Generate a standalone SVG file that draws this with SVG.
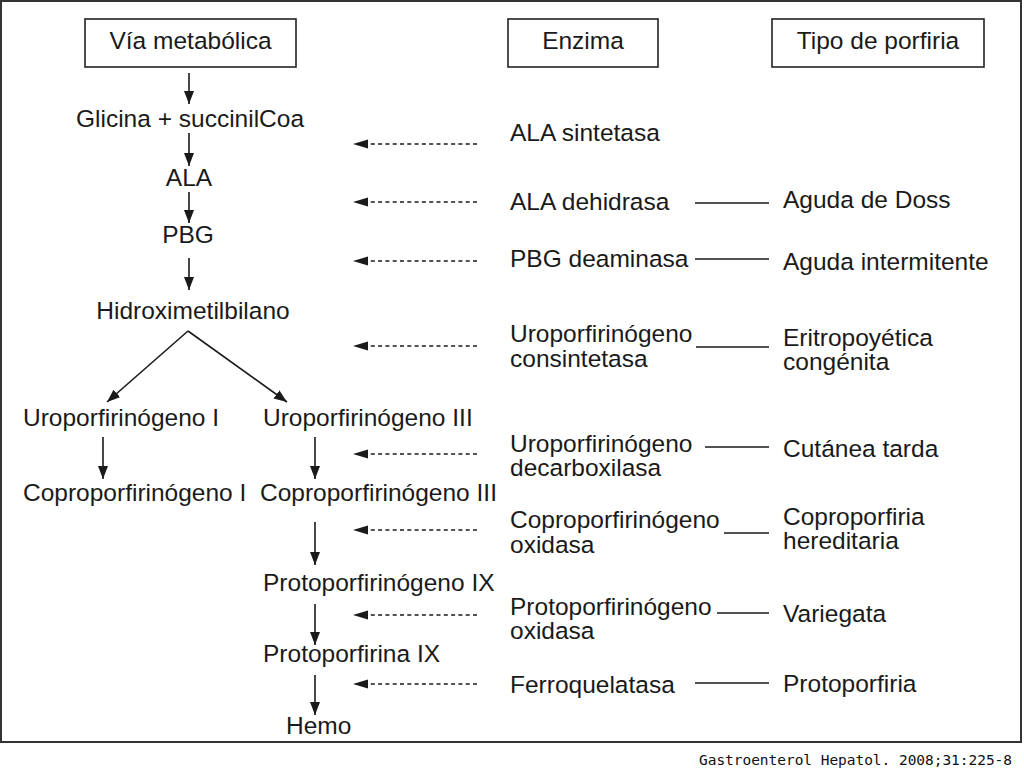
<svg xmlns="http://www.w3.org/2000/svg" width="1024" height="784" viewBox="0 0 1024 784">
<style>
text{font-family:"Liberation Sans",Arial,Helvetica,sans-serif;font-size:24.5px;fill:#1a1a1a}
.c{text-anchor:middle}
.box{fill:#fff;stroke:#222;stroke-width:1.6}
.ar{stroke:#1a1a1a;stroke-width:1.6;fill:none;marker-end:url(#ah)}
.da{stroke:#1a1a1a;stroke-width:1.6;fill:none;stroke-dasharray:4 3.3;marker-end:url(#dh)}
.ln{stroke:#1a1a1a;stroke-width:1.6;fill:none}
.ft{font-family:"DejaVu Sans Mono",monospace;font-size:14.5px;fill:#111}
</style>
<defs>
<marker id="ah" markerUnits="userSpaceOnUse" markerWidth="14" markerHeight="12" refX="13" refY="5.5" orient="auto" viewBox="0 0 14 12">
<path d="M0,0.5 L13,5.5 L0,10.5 z" fill="#1a1a1a"/>
</marker>
<marker id="dh" markerUnits="userSpaceOnUse" markerWidth="16" markerHeight="10" refX="15" refY="4.5" orient="auto" viewBox="0 0 16 10">
<path d="M0,0 L15,4.5 L0,9 z" fill="#1a1a1a"/>
</marker>
</defs>
<rect x="0" y="0" width="1024" height="784" fill="#fff"/>
<rect x="1" y="1" width="1020" height="741" fill="#fff" stroke="#333" stroke-width="2"/>

<g id="hdr-via"><rect class="box" x="85" y="19" width="211" height="48"/><text class="c" x="190.5" y="49">Vía metabólica</text></g>
<g id="hdr-enzima"><rect class="box" x="508" y="19" width="150" height="48"/><text class="c" x="583" y="49">Enzima</text></g>
<g id="hdr-tipo"><rect class="box" x="772" y="19" width="212" height="48"/><text class="c" x="878" y="49">Tipo de porfiria</text></g>

<g id="n-glicina"><text class="c" x="190" y="127">Glicina + succinilCoa</text></g>
<g id="n-ala"><text class="c" x="189" y="186">ALA</text></g>
<g id="n-pbg"><text class="c" x="188" y="243">PBG</text></g>
<g id="n-hidroxi"><text class="c" x="193" y="319">Hidroximetilbilano</text></g>
<g id="n-uro1"><text x="23" y="426">Uroporfirinógeno I</text></g>
<g id="n-uro3"><text x="263" y="426">Uroporfirinógeno III</text></g>
<g id="n-copro1"><text x="23" y="501">Coproporfirinógeno I</text></g>
<g id="n-copro3"><text x="260" y="501">Coproporfirinógeno III</text></g>
<g id="n-protogen"><text x="263" y="591">Protoporfirinógeno IX</text></g>
<g id="n-protoIX"><text x="263" y="662">Protoporfirina IX</text></g>
<g id="n-hemo"><text x="286" y="734">Hemo</text></g>

<g id="e-alas"><text x="510" y="141">ALA sintetasa</text></g>
<g id="e-alad"><text x="510" y="210">ALA dehidrasa</text></g>
<g id="e-pbgd"><text x="510" y="267">PBG deaminasa</text></g>
<g id="e-urocos"><text x="510" y="342">Uroporfirinógeno<tspan x="510" y="367">consintetasa</tspan></text></g>
<g id="e-urodec"><text x="510" y="452">Uroporfirinógeno<tspan x="510" y="476">decarboxilasa</tspan></text></g>
<g id="e-coprox"><text x="510" y="528">Coproporfirinógeno<tspan x="510" y="553">oxidasa</tspan></text></g>
<g id="e-protox"><text x="510" y="615">Protoporfirinógeno<tspan x="510" y="639">oxidasa</tspan></text></g>
<g id="e-ferro"><text x="510" y="693">Ferroquelatasa</text></g>

<g id="p-doss"><text x="783" y="208">Aguda de Doss</text></g>
<g id="p-aguda"><text x="783" y="270">Aguda intermitente</text></g>
<g id="p-eritro"><text x="783" y="346">Eritropoyética<tspan x="783" y="370">congénita</tspan></text></g>
<g id="p-cutanea"><text x="783" y="457">Cutánea tarda</text></g>
<g id="p-copro"><text x="783" y="525">Coproporfiria<tspan x="783" y="549">hereditaria</tspan></text></g>
<g id="p-varieg"><text x="783" y="622">Variegata</text></g>
<g id="p-proto"><text x="783" y="692">Protoporfiria</text></g>

<g id="connectors">
<line class="ar" x1="189" y1="73" x2="189" y2="104"/>
<line class="ar" x1="189" y1="133" x2="189" y2="166"/>
<line class="ar" x1="189" y1="192" x2="189" y2="223"/>
<line class="ar" x1="189" y1="258" x2="189" y2="290"/>
<path class="ar" d="M188,331 L107,402"/>
<path class="ar" d="M188,331 L287,402"/>
<line class="ar" x1="103" y1="437" x2="103" y2="479"/>
<line class="ar" x1="315" y1="437" x2="315" y2="479"/>
<line class="ar" x1="315" y1="522" x2="315" y2="565"/>
<line class="ar" x1="315" y1="604" x2="315" y2="645"/>
<line class="ar" x1="315" y1="675" x2="315" y2="715"/>

<line class="da" x1="477" y1="144" x2="353" y2="144"/>
<line class="da" x1="477" y1="202" x2="353" y2="202"/>
<line class="da" x1="477" y1="261" x2="353" y2="261"/>
<line class="da" x1="477" y1="346" x2="353" y2="346"/>
<line class="da" x1="477" y1="454" x2="353" y2="454"/>
<line class="da" x1="477" y1="530" x2="353" y2="530"/>
<line class="da" x1="477" y1="615" x2="353" y2="615"/>
<line class="da" x1="477" y1="684" x2="353" y2="684"/>

<line class="ln" x1="695" y1="203" x2="769" y2="203"/>
<line class="ln" x1="695" y1="259" x2="769" y2="259"/>
<line class="ln" x1="696" y1="347" x2="769" y2="347"/>
<line class="ln" x1="705" y1="447" x2="769" y2="447"/>
<line class="ln" x1="724" y1="533" x2="769" y2="533"/>
<line class="ln" x1="717" y1="613" x2="769" y2="613"/>
<line class="ln" x1="695" y1="683" x2="769" y2="683"/>
</g>

<text class="ft" x="699" y="765" textLength="313" lengthAdjust="spacing">Gastroenterol Hepatol. 2008;31:225-8</text>
</svg>
